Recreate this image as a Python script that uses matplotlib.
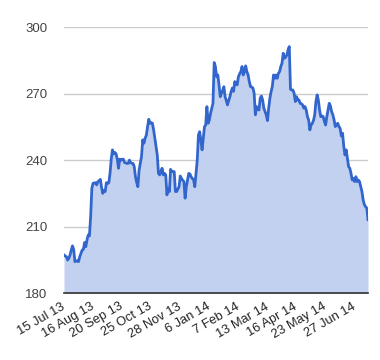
import matplotlib
matplotlib.use("Agg")
import matplotlib.pyplot as plt
import numpy as np

# Daily closing prices, one per trading day (15 Jul 13 .. mid Jul 14)
prices = [
    197.3, 196.8, 196.5, 195.0, 195.8, 197.3, 199.5, 201.4, 199.8, 194.3,
    194.5, 194.7, 194.3, 196.5, 198.0, 199.5, 199.8, 202.9, 201.0, 204.1,
    206.3, 205.9, 214.6, 227.4, 229.6, 229.8, 229.9, 228.9, 230.4, 230.8,
    231.4, 227.8, 225.1, 226.3, 225.9, 229.9, 229.5, 229.9, 234.1, 240.5,
    244.7, 242.9, 243.5, 242.9, 240.5, 236.4, 240.5, 240.0, 240.5, 240.5,
    239.0, 238.8, 238.6, 238.6, 240.1, 239.0, 238.6, 238.6, 237.1, 232.6,
    230.0, 228.1, 235.6, 238.6, 241.7, 249.2, 247.7, 250.0, 251.4, 255.2,
    258.5, 256.7, 257.0, 256.7, 253.7, 249.9, 246.0, 242.5, 234.1, 233.4,
    235.0, 236.4, 233.4, 234.1, 233.4, 224.4, 227.4, 225.9, 235.9, 235.0,
    234.9, 234.9, 225.9, 225.9, 227.0, 228.1, 232.9, 231.8, 231.0, 230.4,
    222.9, 228.1, 231.0, 234.1, 233.8, 232.5, 231.8, 231.1, 228.1, 234.0,
    240.0, 251.4, 252.9, 249.0, 244.7, 250.0, 255.2, 255.9, 264.2, 256.7,
    258.2, 261.2, 263.5, 265.7, 284.1, 282.3, 277.7, 278.5, 274.0, 268.7,
    270.2, 271.5, 273.2, 268.7, 267.0, 265.0, 267.0, 268.7, 271.0, 272.6,
    271.1, 275.5, 274.5, 274.0, 277.7, 279.0, 280.0, 282.3, 278.5, 280.0,
    282.6, 280.0, 278.5, 275.5, 273.2, 273.0, 272.6, 270.2, 260.5, 264.2,
    263.0, 262.7, 268.0, 269.0, 267.2, 263.5, 262.0, 260.5, 257.9, 263.5,
    268.0, 271.0, 273.2, 278.5, 277.0, 278.5, 277.0, 279.2, 280.0, 282.3,
    283.8, 288.3, 286.0, 286.5, 287.5, 289.8, 291.3, 272.1, 271.7, 271.7,
    270.2, 266.5, 268.7, 267.2, 267.2, 265.7, 265.5, 265.0, 263.5, 264.2,
    262.7, 259.7, 258.2, 253.7, 255.9, 256.7, 258.0, 260.5, 266.5, 269.5,
    267.2, 262.7, 259.7, 260.0, 259.7, 257.5, 255.9, 259.7, 262.7, 265.7,
    264.5, 261.9, 260.5, 258.2, 255.2, 256.0, 256.7, 255.2, 254.4, 251.0,
    252.2, 246.2, 242.4, 244.7, 240.9, 237.1, 236.4, 234.0, 231.1, 231.8,
    230.4, 232.6, 230.4, 231.1, 230.4, 228.1, 225.9, 222.1, 220.0, 219.1,
    218.4, 213.2,
]

tick_labels = ["15 Jul 13", "16 Aug 13", "20 Sep 13", "25 Oct 13", "28 Nov 13",
               "6 Jan 14", "7 Feb 14", "13 Mar 14", "16 Apr 14", "23 May 14",
               "27 Jun 14"]
tick_step = 24  # label every 24 trading days

y_ticks = [180, 210, 240, 270, 300]

plt.rcParams['font.family'] = ['Liberation Sans', 'DejaVu Sans']

fig = plt.figure(figsize=(3.8, 3.6), dpi=100)
ax = fig.add_axes([64 / 380, 66.7 / 360, 304 / 380, 266 / 360])

x = np.arange(len(prices))
ax.fill_between(x, 180, prices, color="#c2d1f0", linewidth=0, zorder=1)
ax.plot(x, prices, color="#3366cc", linewidth=2, zorder=3, solid_joinstyle="round")

ax.set_xlim(0, len(prices) - 1)
ax.set_ylim(180, 300)
ax.set_yticks(y_ticks)
ax.set_yticklabels([str(v) for v in y_ticks])
ax.grid(axis="y", color="#cccccc", linewidth=1, zorder=0)
ax.set_axisbelow(True)

tick_pos = [i * tick_step for i in range(len(tick_labels))]
ax.set_xticks(tick_pos)
ax.set_xticklabels(tick_labels, rotation=30, ha="right", va="center",
                   rotation_mode="anchor")

for s in ["top", "right", "left"]:
    ax.spines[s].set_visible(False)
ax.spines["bottom"].set_color("#333333")
ax.spines["bottom"].set_linewidth(1.2)
ax.spines["bottom"].set_zorder(4)

ax.tick_params(axis="y", length=0, pad=12, labelsize=9.5, labelcolor="#444444")
ax.tick_params(axis="x", length=0, pad=9, labelsize=9.3, labelcolor="#222222")

fig.savefig("out.png", dpi=100)
